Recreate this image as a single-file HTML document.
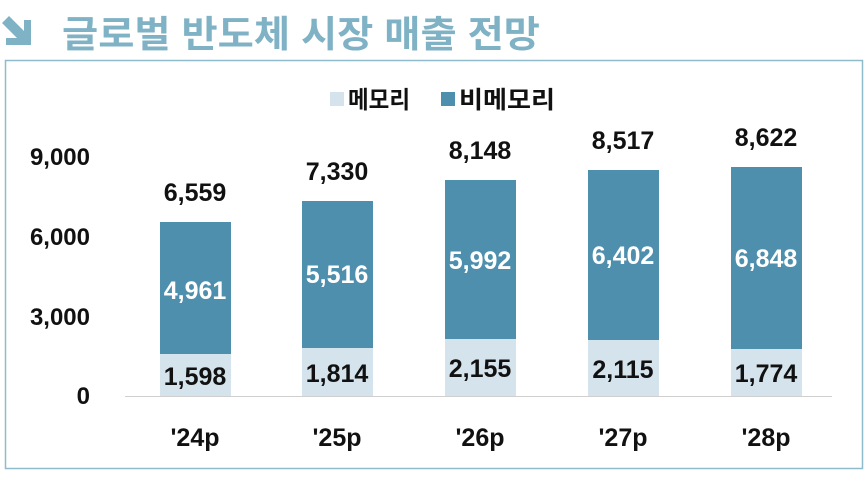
<!DOCTYPE html>
<html><head><meta charset="utf-8"><style>
body{margin:0;width:868px;height:472px;background:#fff;overflow:hidden;font-family:"Liberation Sans","Noto Sans CJK KR",sans-serif;}
</style></head><body>
<svg width="868" height="472" xmlns="http://www.w3.org/2000/svg" font-family="Liberation Sans, Noto Sans CJK KR, sans-serif">
<polygon points="9,16 24,31 24,20 31,20 31,45 6,45 6,38 17,38 2,23" fill="#7fb2c5"/>
<text x="62" y="47" font-size="37" font-weight="bold" fill="#7fb2c5" textLength="478" lengthAdjust="spacingAndGlyphs">글로벌 반도체 시장 매출 전망</text>
<rect x="5.5" y="60.5" width="857" height="408" fill="none" stroke="#8fbccc" stroke-width="1.5"/>
<rect x="330" y="92" width="14" height="14" fill="#d5e3ec"/>
<text x="348" y="108" font-size="24" font-weight="bold" fill="#111" textLength="62" lengthAdjust="spacingAndGlyphs">메모리</text>
<rect x="441" y="92" width="14" height="14" fill="#4e8fae"/>
<text x="459" y="108" font-size="24" font-weight="bold" fill="#111" textLength="96" lengthAdjust="spacingAndGlyphs">비메모리</text>
<g font-size="24" font-weight="bold" fill="#111" text-anchor="end">
<text x="90" y="165">9,000</text><text x="90" y="245">6,000</text><text x="90" y="325">3,000</text><text x="90" y="404">0</text>
</g>
<line x1="125" y1="396.5" x2="832" y2="396.5" stroke="#d0d0d0" stroke-width="1"/>
<g font-weight="bold">
<rect x="160" y="222" width="71" height="132" fill="#4e8fae"/><rect x="160" y="354" width="71" height="42" fill="#d5e3ec"/>
<rect x="302" y="201" width="71" height="147" fill="#4e8fae"/><rect x="302" y="348" width="71" height="48" fill="#d5e3ec"/>
<rect x="445" y="180" width="71" height="159" fill="#4e8fae"/><rect x="445" y="339" width="71" height="57" fill="#d5e3ec"/>
<rect x="588" y="170" width="71" height="170" fill="#4e8fae"/><rect x="588" y="340" width="71" height="56" fill="#d5e3ec"/>
<rect x="731" y="167" width="71" height="182" fill="#4e8fae"/><rect x="731" y="349" width="71" height="47" fill="#d5e3ec"/>
<g font-size="25" fill="#fff" text-anchor="middle">
<text x="195" y="299">4,961</text><text x="337" y="283">5,516</text><text x="480" y="269">5,992</text><text x="623" y="264">6,402</text><text x="766" y="267">6,848</text>
</g>
<g font-size="25" fill="#111" text-anchor="middle">
<text x="195" y="385">1,598</text><text x="337" y="382">1,814</text><text x="480" y="377">2,155</text><text x="623" y="378">2,115</text><text x="766" y="382">1,774</text>
<text x="195" y="201">6,559</text><text x="337" y="180">7,330</text><text x="480" y="159">8,148</text><text x="623" y="149">8,517</text><text x="766" y="146">8,622</text>
<text x="195" y="446">'24p</text><text x="337" y="446">'25p</text><text x="480" y="446">'26p</text><text x="623" y="446">'27p</text><text x="766" y="446">'28p</text>
</g></g>
</svg>
</body></html>
